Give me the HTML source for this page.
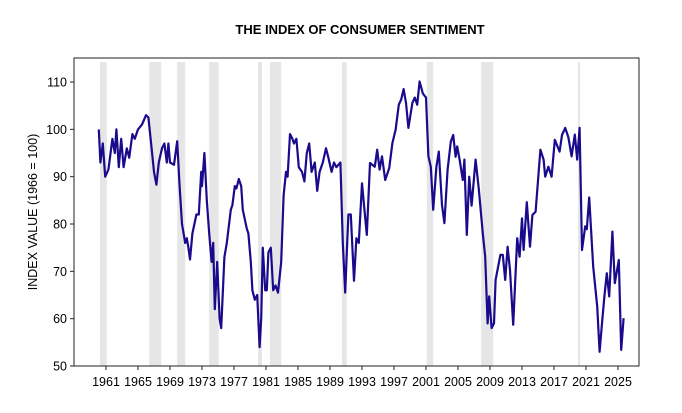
<!DOCTYPE html>
<html><head><meta charset="utf-8"><style>
body{margin:0;background:#fff;}
svg{display:block;font-family:"Liberation Sans",Arial,sans-serif;}
</style></head><body>
<svg id="chart" width="682" height="413" viewBox="0 0 682 413">
<text x="360" y="34" text-anchor="middle" font-size="13" font-weight="bold">THE INDEX OF CONSUMER SENTIMENT</text>
<text transform="translate(37,212) rotate(-90)" text-anchor="middle" font-size="12.5">INDEX VALUE (1966 = 100)</text>
<g id="bands"></g>
<g id="axes"></g>
<path id="line" fill="none" stroke="#1a0a8c" stroke-width="2.2" stroke-linejoin="round"/>
</svg>
<script>
const years=[1960.1,1960.3,1960.6,1960.9,1961.3,1961.8,1962.1,1962.3,1962.6,1962.9,1963.2,1963.6,1963.9,1964.3,1964.6,1965.0,1965.5,1966.0,1966.3,1966.7,1967.0,1967.3,1967.6,1968.0,1968.3,1968.6,1968.8,1969.0,1969.5,1969.9,1970.2,1970.5,1970.9,1971.1,1971.3,1971.5,1971.8,1972.3,1972.6,1972.9,1973.0,1973.3,1973.6,1973.9,1974.2,1974.4,1974.6,1974.9,1975.2,1975.4,1975.8,1976.1,1976.6,1976.8,1977.1,1977.3,1977.6,1977.9,1978.1,1978.6,1978.8,1979.1,1979.3,1979.6,1979.9,1980.2,1980.4,1980.6,1980.9,1981.1,1981.3,1981.6,1981.9,1982.2,1982.5,1982.9,1983.2,1983.5,1983.7,1984.0,1984.3,1984.5,1984.8,1985.1,1985.5,1985.8,1986.1,1986.4,1986.7,1987.1,1987.4,1987.7,1988.1,1988.5,1988.8,1989.2,1989.5,1989.8,1990.3,1990.6,1990.9,1991.1,1991.3,1991.6,1992.0,1992.3,1992.6,1993.0,1993.6,1994.0,1994.6,1994.9,1995.2,1995.5,1995.9,1996.4,1996.8,1997.2,1997.6,1997.9,1998.2,1998.5,1998.8,1999.3,1999.6,1999.9,2000.2,2000.6,2001.0,2001.3,2001.6,2001.9,2002.3,2002.6,2003.0,2003.3,2003.7,2004.1,2004.4,2004.7,2004.9,2005.2,2005.6,2005.8,2006.1,2006.4,2006.7,2007.2,2007.6,2008.1,2008.4,2008.7,2008.9,2009.2,2009.5,2009.7,2010.3,2010.6,2010.9,2011.2,2011.5,2011.9,2012.4,2012.7,2013.0,2013.2,2013.6,2014.0,2014.3,2014.7,2015.3,2015.7,2015.9,2016.3,2016.7,2017.1,2017.7,2018.0,2018.4,2018.8,2019.2,2019.6,2019.9,2020.2,2020.5,2020.9,2021.1,2021.4,2021.9,2022.4,2022.7,2023.0,2023.3,2023.6,2023.9,2024.3,2024.6,2025.1,2025.4,2025.7];
const values=[100,93,97,90,91.5,98,95,100,92,98,92,96,94,99,98,100,101,103,102.5,96,91,88.3,93,96,97,93,97,93,92.5,97.5,88,80,76,77,75,72.5,78,82,82,91,88,95,85,78,72,76,62,72,60,58,73,76,83,84,88,87.5,89.5,88,83,79,78,72,66,64,65,54,60,75,66,66,74,75,66,67,65.5,72,86,91,90,99,98,97,98,92,91,89,95,97,91,93,87,91,93,96,94,91,93,92,93,76,65.5,74,82,82,68,77,76,88.6,77.7,92.9,92.1,95.7,91.5,94.3,89.3,91.8,97.1,99.9,105.2,106.3,108.5,105.6,100.3,105.6,106.7,105.2,110.1,107.6,106.7,94.3,92.1,83,92.1,95.3,84,80.2,91.5,97.4,98.8,94.2,96.4,93.6,89.3,93.6,77.7,90,83.9,93.6,87.4,78,73.1,59,64.7,58,59,68.2,73.5,73.5,68.2,75.2,70.3,58.7,77,73.1,81.2,74.5,84.6,75.2,81.9,82.6,95.7,93.6,90,92.1,90,97.8,95.3,98.8,100.3,98.3,94.3,98.9,93.6,100.3,74.5,79.5,78.9,85.6,71,62.6,53,59,64.7,69.6,64.7,78.4,67.5,72.4,53.4,60.1];
const recStart=[1960.25,1966.4,1969.9,1973.9,1980.0,1981.5,1990.5,2001.1,2007.9,2020.0];
const recEnd=[1961.1,1967.9,1970.9,1975.1,1980.5,1982.9,1991.1,2001.9,2009.4,2020.25];
const yTicks=[50,60,70,80,90,100,110];
const xTicks=[1961,1965,1969,1973,1977,1981,1985,1989,1993,1997,2001,2005,2009,2013,2017,2021,2025];
const L=74,R=639,T=58,B=366;
const x=y=>106+(y-1961)*8.0;
const yv=v=>366-(v-50)*4.733;
const NS='http://www.w3.org/2000/svg';
function mk(tag,attrs,parent){const e=document.createElementNS(NS,tag);for(const k in attrs)e.setAttribute(k,attrs[k]);parent.appendChild(e);return e;}
const bands=document.getElementById('bands'),axes=document.getElementById('axes');
recStart.forEach((s,i)=>{const r=mk('rect',{x:x(s),y:62,width:Math.max(2,x(recEnd[i])-x(s)),height:B-62,fill:'#e6e6e6'},bands);

});
const fr=mk('path',{d:`M${L},${T}H${R}V${B}H${L}Z`,fill:'none',stroke:'#222','stroke-width':1},axes);


yTicks.forEach(v=>{mk('line',{x1:L-4,x2:L,y1:yv(v),y2:yv(v),stroke:'#222'},axes);
const t=mk('text',{x:L-7,y:yv(v)+4.5,'text-anchor':'end','font-size':12.5},axes);t.textContent=v;

});
xTicks.forEach(v=>{mk('line',{x1:x(v),x2:x(v),y1:B,y2:B+4,stroke:'#222'},axes);
const t=mk('text',{x:x(v),y:B+20,'text-anchor':'middle','font-size':12.5},axes);t.textContent=v;

});
document.getElementById('line').setAttribute('d',years.map((y,i)=>(i?'L':'M')+x(y).toFixed(1)+','+yv(values[i]).toFixed(1)).join(''));
</script>
</body></html>
